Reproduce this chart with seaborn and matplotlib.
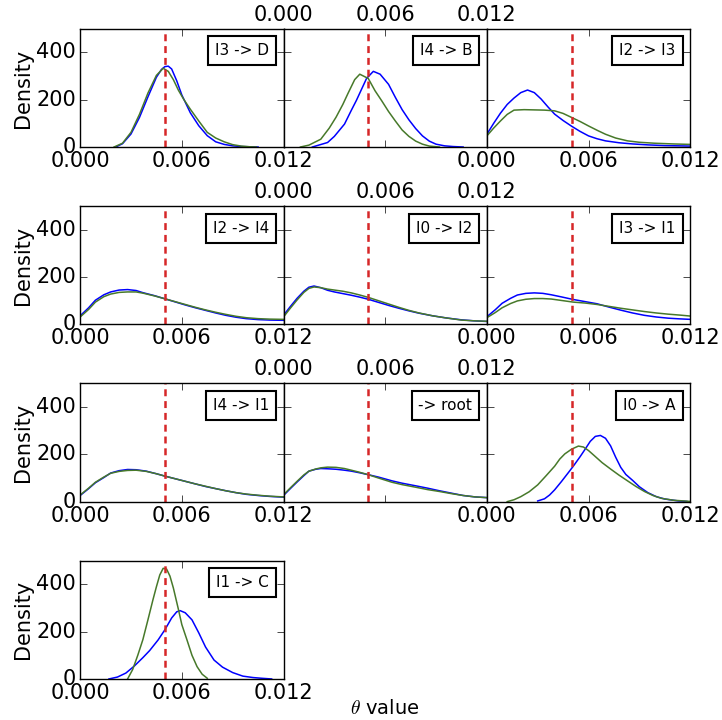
import matplotlib
matplotlib.use("Agg")
import matplotlib.pyplot as plt
from matplotlib.offsetbox import AnchoredText
from matplotlib.ticker import FormatStrFormatter
import seaborn as sns

plt.style.use("classic")
plt.rcParams["font.family"] = ["DejaVu Sans"]
plt.rcParams["mathtext.fontset"] = "cm"

labels = ["I3 -> D", "I4 -> B", "I2 -> I3",
          "I2 -> I4", "I0 -> I2", "I3 -> I1",
          "I4 -> I1", "-> root", "I0 -> A",
          "I1 -> C"]

true_theta = 0.005

# I3 -> D
i3_d_x_blue = [0.0021, 0.0025, 0.0030, 0.0035, 0.0040, 0.0045, 0.0048, 0.0050, 0.0052, 0.0054, 0.0057,
               0.0060, 0.0065, 0.0070, 0.0075, 0.0080, 0.0085, 0.0090, 0.0095, 0.0100, 0.0105]
i3_d_y_blue = [0, 14, 55, 125, 212, 295, 328, 340, 342, 330, 280, 220, 145, 90, 48, 22, 11, 5, 2, 1, 0]
i3_d_x_green = [0.0020, 0.0025, 0.0030, 0.0035, 0.0040, 0.0045, 0.0049, 0.0052, 0.0055, 0.0058,
                0.0061, 0.0065, 0.0070, 0.0075, 0.0080, 0.0085, 0.0090, 0.0095, 0.0100, 0.0104]
i3_d_y_green = [0, 16, 62, 138, 228, 303, 333, 320, 285, 240, 203, 160, 110, 62, 38, 22, 10, 4, 1, 0]

# I4 -> B
i4_b_x_blue = [0.0017, 0.0026, 0.0030, 0.0036, 0.0040, 0.0043, 0.0049, 0.0053, 0.0057, 0.0062,
               0.0066, 0.0070, 0.0074, 0.0078, 0.0082, 0.0086, 0.0090, 0.0095, 0.0100, 0.0106]
i4_b_y_blue = [0, 19, 45, 97, 155, 197, 290, 320, 308, 265, 210, 158, 115, 78, 47, 25, 12, 5, 2, 0]
i4_b_x_green = [0.0010, 0.0015, 0.0022, 0.0027, 0.0031, 0.0035, 0.0038, 0.0042, 0.0045, 0.0050,
                0.0054, 0.0058, 0.0062, 0.0066, 0.0070, 0.0074, 0.0078, 0.0082, 0.0086, 0.0092]
i4_b_y_green = [0, 8, 33, 80, 126, 180, 226, 285, 308, 290, 238, 195, 150, 110, 72, 45, 25, 12, 4, 0]

# I2 -> I3
i2_i3_x_blue = [0.0000, 0.0004, 0.0008, 0.0012, 0.0016, 0.0020, 0.0024, 0.0028, 0.0032, 0.0036, 0.0040,
                0.0045, 0.0050, 0.0055, 0.0060, 0.0065, 0.0070, 0.0078, 0.0086, 0.0095, 0.0105, 0.0120]
i2_i3_y_blue = [54, 100, 143, 180, 207, 230, 241, 230, 203, 170, 139, 112, 88, 66, 47, 35, 26, 18, 13, 9, 6, 4]
i2_i3_x_green = [0.0000, 0.0004, 0.0008, 0.0012, 0.0016, 0.0022, 0.0028, 0.0034, 0.0040, 0.0045, 0.0050,
                 0.0055, 0.0060, 0.0065, 0.0070, 0.0076, 0.0083, 0.0090, 0.0099, 0.0110, 0.0120]
i2_i3_y_green = [47, 80, 110, 138, 156, 158, 157, 156, 153, 142, 125, 108, 89, 71, 54, 38, 26, 20, 16, 13, 11]

# I2 -> I4
i2_i4_x = [0.0, 0.0005, 0.0009, 0.0014, 0.0018, 0.0023, 0.0028, 0.0033, 0.0037, 0.0044, 0.0050,
           0.0056, 0.0062, 0.0068, 0.0074, 0.0080, 0.0086, 0.0092, 0.0098, 0.0105, 0.0112, 0.0120]
i2_i4_y_blue = [36, 70, 102, 125, 137, 145, 147, 143, 134, 121, 108, 95, 82, 70, 59, 48, 38, 30, 24, 20, 18, 17]
i2_i4_y_green = [31, 63, 94, 117, 128, 135, 137, 137, 132, 120, 108, 96, 84, 72, 61, 51, 42, 34, 28, 24, 22, 21]

# I0 -> I2
i0_i2_x = [0.0, 0.0004, 0.0008, 0.0012, 0.0015, 0.0018, 0.0022, 0.0026, 0.0030, 0.0035, 0.0040, 0.0045,
           0.0050, 0.0056, 0.0062, 0.0068, 0.0074, 0.0080, 0.0088, 0.0096, 0.0105, 0.0112, 0.0120]
i0_i2_y_blue = [38, 75, 110, 140, 157, 162, 155, 144, 137, 130, 123, 115, 106, 93, 80, 68, 57, 47, 36, 27, 19, 15, 12]
i0_i2_y_green = [31, 68, 103, 135, 152, 158, 155, 149, 145, 140, 133, 124, 114, 100, 86, 72, 59, 48, 36, 27, 18, 15, 13]

# I3 -> I1
i3_i1_x = [0.0, 0.0005, 0.0009, 0.0014, 0.0018, 0.0023, 0.0028, 0.0033, 0.0038, 0.0044, 0.0051,
           0.0058, 0.0065, 0.0072, 0.0079, 0.0086, 0.0093, 0.0100, 0.0107, 0.0114, 0.0120]
i3_i1_y_blue = [32, 62, 89, 110, 124, 131, 133, 131, 125, 116, 105, 96, 87, 73, 60, 48, 38, 31, 26, 23, 21]
i3_i1_y_green = [28, 50, 70, 88, 99, 106, 109, 109, 107, 101, 94, 90, 84, 76, 68, 61, 54, 48, 43, 39, 35]

# I4 -> I1
i4_i1_x = [0.0, 0.0005, 0.0009, 0.0014, 0.0018, 0.0023, 0.0028, 0.0033, 0.0039, 0.0045, 0.0050,
           0.0056, 0.0062, 0.0068, 0.0074, 0.0080, 0.0086, 0.0092, 0.0098, 0.0105, 0.0112, 0.0120]
i4_i1_y_blue = [26, 55, 80, 102, 121, 131, 136, 135, 129, 118, 108, 97, 86, 75, 64, 55, 46, 38, 31, 26, 22, 19]
i4_i1_y_green = [28, 57, 82, 104, 120, 128, 132, 133, 128, 118, 108, 97, 86, 75, 65, 55, 46, 38, 32, 27, 23, 20]

# -> root
root_x = [0.0, 0.0004, 0.0008, 0.0012, 0.0015, 0.0019, 0.0022, 0.0026, 0.0031, 0.0036, 0.0040, 0.0045,
          0.0050, 0.0056, 0.0064, 0.0070, 0.0078, 0.0085, 0.0092, 0.0099, 0.0106, 0.0113, 0.0120]
root_y_blue = [26, 55, 83, 110, 129, 137, 140, 139, 137, 133, 129, 122, 114, 104, 88, 78, 67, 57, 46, 36, 26, 20, 17]
root_y_green = [29, 58, 86, 113, 129, 138, 143, 146, 145, 140, 133, 124, 114, 100, 82, 72, 61, 51, 43, 34, 26, 20, 17]

# I0 -> A
i0_a_x_blue = [0.0030, 0.0034, 0.0037, 0.0040, 0.0044, 0.0048, 0.0051, 0.0055, 0.0058, 0.0061, 0.0064,
               0.0067, 0.0070, 0.0073, 0.0076, 0.0079, 0.0082, 0.0086, 0.0090, 0.0095, 0.0100, 0.0105,
               0.0113, 0.0118]
i0_a_y_blue = [3, 12, 28, 50, 85, 122, 150, 190, 222, 255, 276, 280, 268, 236, 188, 145, 115, 90, 63, 38,
               21, 11, 3, 1]
i0_a_x_green = [0.0012, 0.0016, 0.0020, 0.0025, 0.0030, 0.0035, 0.0040, 0.0043, 0.0046, 0.0050, 0.0054,
                0.0057, 0.0060, 0.0063, 0.0068, 0.0073, 0.0078, 0.0083, 0.0088, 0.0093, 0.0098, 0.0103,
                0.0110, 0.0120]
i0_a_y_green = [0, 8, 21, 42, 71, 110, 150, 180, 202, 222, 235, 231, 216, 197, 165, 138, 112, 88, 64, 43,
                26, 14, 6, 1]

# I1 -> C
i1_c_x_blue = [0.0017, 0.0022, 0.0027, 0.0032, 0.0037, 0.0041, 0.0046, 0.0050, 0.0054, 0.0057, 0.0059,
               0.0062, 0.0066, 0.0070, 0.0074, 0.0079, 0.0084, 0.0090, 0.0096, 0.0102, 0.0107, 0.0113]
i1_c_y_blue = [0, 8, 25, 55, 90, 120, 165, 208, 258, 284, 289, 280, 250, 195, 135, 80, 50, 27, 12, 6, 3, 0]
i1_c_x_green = [0.0028, 0.0031, 0.0034, 0.0037, 0.0040, 0.0043, 0.0045, 0.0047, 0.0049, 0.0051, 0.0053,
                0.0055, 0.0058, 0.0060, 0.0063, 0.0066, 0.0069, 0.0072, 0.0075]
i1_c_y_green = [0, 40, 100, 166, 250, 336, 390, 440, 468, 465, 435, 385, 294, 230, 166, 100, 52, 20, 3]

curves = [
    (i3_d_x_blue, i3_d_y_blue, i3_d_x_green, i3_d_y_green),
    (i4_b_x_blue, i4_b_y_blue, i4_b_x_green, i4_b_y_green),
    (i2_i3_x_blue, i2_i3_y_blue, i2_i3_x_green, i2_i3_y_green),
    (i2_i4_x, i2_i4_y_blue, i2_i4_x, i2_i4_y_green),
    (i0_i2_x, i0_i2_y_blue, i0_i2_x, i0_i2_y_green),
    (i3_i1_x, i3_i1_y_blue, i3_i1_x, i3_i1_y_green),
    (i4_i1_x, i4_i1_y_blue, i4_i1_x, i4_i1_y_green),
    (root_x, root_y_blue, root_x, root_y_green),
    (i0_a_x_blue, i0_a_y_blue, i0_a_x_green, i0_a_y_green),
    (i1_c_x_blue, i1_c_y_blue, i1_c_x_green, i1_c_y_green),
]

blue = "#0000ff"
green = "#47792a"
red = "#d62728"

fig, axes = plt.subplots(4, 3, figsize=(7.22, 7.2), dpi=100)
fig.patch.set_facecolor("white")
fig.subplots_adjust(left=0.111, right=0.956, top=0.96, bottom=0.057,
                    wspace=0, hspace=0.5)

for i, ax in enumerate(axes.flat):
    if i >= len(labels):
        ax.axis("off")
        continue
    row, col = divmod(i, 3)
    xb, yb, xg, yg = curves[i]
    sns.lineplot(x=xb, y=yb, color=blue, lw=1.1, ax=ax)
    sns.lineplot(x=xg, y=yg, color=green, lw=1.1, ax=ax)
    ax.axvline(true_theta, color=red, ls="--", lw=1.8, dashes=(5, 3.5))

    ax.set_xlim(0, 0.012)
    ax.set_ylim(0, 500)
    ax.set_xticks([0.0, 0.006, 0.012])
    ax.set_yticks([0, 200, 400])
    ax.xaxis.set_major_formatter(FormatStrFormatter("%.3f"))
    ax.tick_params(axis="both", which="major", labelsize=15, length=5, pad=3)
    ax.set_xlabel("")
    ax.set_ylabel("")

    if col == 0:
        ax.set_ylabel("Density", fontsize=15, labelpad=2)
    else:
        ax.tick_params(labelleft=False)
    if col == 1:
        ax.tick_params(labelbottom=False, labeltop=True)

    at = AnchoredText(labels[i], loc="upper right", prop=dict(size=11),
                      borderpad=0.5, pad=0.45)
    at.patch.set_linewidth(1.5)
    ax.add_artist(at)

fig.text(385 / 722, 1 - 709 / 720, r"$\theta$ value", ha="center", va="center",
         fontsize=14)

plt.savefig("out.png", dpi=100, facecolor="white")
